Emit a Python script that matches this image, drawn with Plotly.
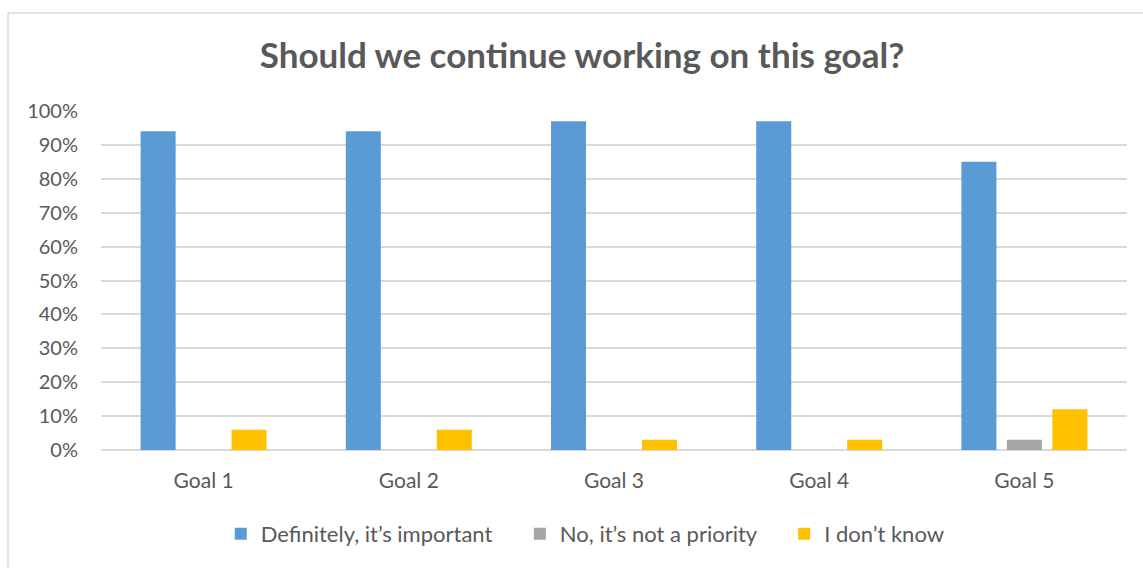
import plotly.graph_objects as go

goals = ["Goal 1", "Goal 2", "Goal 3", "Goal 4", "Goal 5"]
important = [0.94, 0.94, 0.97, 0.97, 0.85]
not_priority = [0, 0, 0, 0, 0.03]
dont_know = [0.06, 0.06, 0.03, 0.03, 0.12]

series_names = ["Definitely, it\u2019s important", "No, it\u2019s not a priority", "I don\u2019t know"]
colors = ["#5B9BD5", "#A5A5A5", "#FFC000"]

FONT = "Lato, 'Noto Sans', sans-serif"
TXT = "#595959"
PAD = "\u00a0" * 4  # extra room between legend entries

fig = go.Figure()
for i, (name, vals, col) in enumerate(zip(series_names, [important, not_priority, dont_know], colors)):
    label = name + (PAD if i < len(series_names) - 1 else "")
    fig.add_trace(go.Bar(x=goals, y=vals, name=label, hovertemplate=name + ": %{y:.0%}<extra></extra>",
                         marker=dict(color=col, line=dict(width=0))))

fig.update_layout(
    width=1143, height=568,
    margin=dict(l=101, r=16, t=111, b=118),
    paper_bgcolor="white", plot_bgcolor="white",
    barmode="group", bargap=0.335, bargroupgap=0.23,
    title=dict(text="<b>Should we continue working on this goal?</b>", x=582 / 1143, xanchor="center",
               y=1 - 56 / 568, yanchor="middle", font=dict(family=FONT, size=35, color=TXT)),
    font=dict(family=FONT, size=20, color=TXT),
    legend=dict(orientation="h", x=0.472, xanchor="center", y=-0.248, yanchor="middle",
                font=dict(family=FONT, size=22, color=TXT), itemwidth=30,
                traceorder="normal"),
    xaxis=dict(showgrid=False, showline=False, ticks="", ticklabelstandoff=16,
               tickfont=dict(size=21, color=TXT)),
    yaxis=dict(range=[0, 1], tickvals=[i / 10 for i in range(11)], tickformat=".0%",
               showgrid=True, gridcolor="#D9D9D9", gridwidth=1.5, zeroline=True,
               zerolinecolor="#D9D9D9", zerolinewidth=1.5, ticks="", ticklabelstandoff=22,
               tickfont=dict(size=20, color=TXT)),
    shapes=[dict(type="rect", xref="paper", yref="paper",
                 x0=(8 - 101) / 1026, x1=1.2, y0=-0.5, y1=(450 - 13) / 339,
                 line=dict(color="#D9D9D9", width=1.5), fillcolor="rgba(0,0,0,0)", layer="below")],
)

fig.write_html("out.html")
